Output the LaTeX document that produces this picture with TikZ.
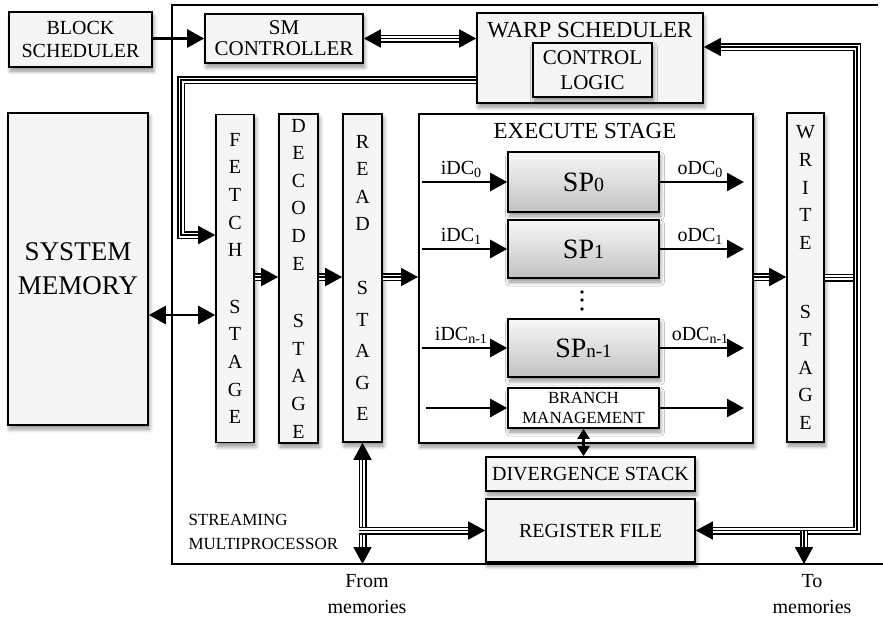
\documentclass[tikz,border=0pt]{standalone}
\usepackage{fontspec}
\setmainfont{Liberation Serif}
\usetikzlibrary{arrows.meta,shadows.blur}
\definecolor{boxgray}{RGB}{244,245,244}
\newcommand{\stagefont}{\fontsize{20}{27.6}\selectfont}
\begin{document}
\begin{tikzpicture}[x=1pt, y=-1pt, >={Triangle[length=17pt,width=18pt]},
  blk/.style={draw, line width=1.6pt, fill=boxgray, inner sep=0pt, align=center,
    blur shadow={shadow xshift=1.5pt, shadow yshift=-4pt, shadow blur radius=4pt, shadow blur steps=8, shadow opacity=45}},
  stagebox/.style={blk, minimum width=38pt, minimum height=328pt, font=\stagefont},
  spbox/.style={blk, top color=black!3, bottom color=black!24, minimum width=151pt, minimum height=58pt},
  arr/.style={line width=2.6pt, ->},
  arrboth/.style={line width=2.6pt, <->},
  bus/.style={line width=8pt, postaction={draw=white, line width=5pt}, postaction={draw=black, line width=1.7pt}},
  busarrow/.style={bus, shorten >=15pt, postaction={draw=black, line width=1.7pt, shorten >=0pt, ->}},
  busboth/.style={bus, shorten >=15pt, shorten <=15pt, postaction={draw=black, line width=1.7pt, shorten >=0pt, shorten <=0pt, <->}}]
  \useasboundingbox (0,0) rectangle (883,621);
  % outside the multiprocessor
  \node[blk, minimum width=143pt, minimum height=55pt, font=\fontsize{20}{23}\selectfont] (blocksch) at (80.5,39.5) {BLOCK\\SCHEDULER};
  \node[blk, minimum width=140pt, minimum height=312pt, font=\fontsize{27}{34}\selectfont] (sysmem) at (78,269) {SYSTEM\\MEMORY};
  % streaming multiprocessor frame
  \draw[line width=1.4pt] (878,5) -- (172,5) -- (172,564) -- (883,564);
  \node[anchor=west, align=left, font=\fontsize{17}{24}\selectfont] (smlabel) at (185,532) {STREAMING\\MULTIPROCESSOR};
  \node[blk, minimum width=158pt, minimum height=49pt, font=\fontsize{21}{21}\selectfont] (smctrl) at (284,38.5) {SM\\CONTROLLER};
  \node[blk, minimum width=226pt, minimum height=90pt] (warp) at (590,58) {};
  \node[font=\fontsize{23}{24}\selectfont] (warptitle) at (590,30) {WARP SCHEDULER};
  \node[blk, minimum width=119pt, minimum height=54pt, font=\fontsize{21}{25}\selectfont] (ctrl) at (592.5,70) {CONTROL\\LOGIC};
  % pipeline stages
  \node[stagebox] (fetch) at (235,278.5) {F\\E\\T\\C\\H\\[29pt]S\\T\\A\\G\\E};
  \node[stagebox, minimum width=39pt, minimum height=329pt] (decode) at (298.5,278.5) {D\\E\\C\\O\\D\\E\\[30pt]S\\T\\A\\G\\E};
  \node[stagebox, minimum width=39pt] (read) at (362.5,278) {R\\E\\A\\D\\[36pt]S\\[4pt]T\\[4pt]A\\[4pt]G\\[4pt]E};
  \node[blk, fill=white, line width=2pt, minimum width=334pt, minimum height=329pt] (exec) at (586,278.5) {};
  \node[font=\fontsize{23}{25}\selectfont] (exectitle) at (585,131) {EXECUTE STAGE};
  \node[stagebox, minimum width=37pt, minimum height=329pt] (write) at (805.5,277.5) {W\\R\\I\\T\\E\\[42pt]S\\T\\A\\G\\E};
  % stream processors
  \node[spbox, minimum height=60pt] (sp0) at (583.5,182) {\fontsize{28}{30}\selectfont SP\fontsize{20}{22}\selectfont 0};
  \node[spbox] (sp1) at (583.5,249) {\fontsize{28}{30}\selectfont SP\fontsize{20}{22}\selectfont 1};
  \node[spbox] (spn) at (583.5,348) {\fontsize{28}{30}\selectfont SP\fontsize{19}{22}\selectfont n-1};
  \foreach \y in {292,300,309}
    \fill (582,\y) circle (1.9pt);
  \node[blk, fill=white, minimum width=151pt, minimum height=40pt, font=\fontsize{17}{19.5}\selectfont] (branch) at (583.5,408) {BRANCH\\MANAGEMENT};
  \node[blk, minimum width=209pt, minimum height=34pt, font=\fontsize{20}{22}\selectfont] (div) at (590.5,474) {DIVERGENCE STACK};
  \node[blk, minimum width=209pt, minimum height=63pt, font=\fontsize{20}{22}\selectfont] (reg) at (590.5,530.5) {REGISTER FILE};
  \node[align=center, font=\fontsize{20}{26}\selectfont] (fromtext) at (367,594) {From\\memories};
  \node[align=center, font=\fontsize{20}{26}\selectfont] (totext) at (812,594) {To\\memories};
  % named points for the buses
  \coordinate (pipe) at (0,277);
  \coordinate (lbus) at (181,80);
  \coordinate (rbus) at (857,47);
  \coordinate (tomem) at (804,564);
  % single lines
  \draw[arr] (blocksch.east |- smctrl.west) -- (smctrl.west);
  \draw[arrboth] (sysmem.east |- 0,315) -- (fetch.west |- 0,315);
  \draw[line width=2.2pt, {Triangle[length=10pt,width=12pt]}-{Triangle[length=10pt,width=12pt]}] (branch.south) -- (branch.south |- div.north);
  \foreach \s/\t in {sp0/0, sp1/1, spn/{n-1}}
  {
    \draw[arr] ([xshift=4pt]exec.west |- \s.west) -- node[above, pos=.46, font=\fontsize{20}{22}\selectfont] {iDC\textsubscript{\t}} (\s.west);
    \draw[arr] (\s.east) -- node[above, pos=.48, font=\fontsize{20}{22}\selectfont] {oDC\textsubscript{\t}} ([xshift=-10pt]exec.east |- \s.east);
  }
  \draw[arr] ([xshift=8pt]exec.west |- branch.west) -- (branch.west);
  \draw[arr] (branch.east) -- ([xshift=-10pt]exec.east |- branch.east);
  % buses
  \draw[busboth] (smctrl.east) -- (warp.west |- smctrl.east);
  \draw[busarrow] (warp.west |- lbus) -- (lbus) |- (fetch.west |- 0,235);
  \foreach \a/\b in {fetch/decode, decode/read, read/exec, exec/write}
    \draw[busarrow] (\a.east |- pipe) -- (\b.west |- pipe);
  \draw[bus] (write.east) -- ([xshift=4pt]write.east -| rbus);
  \draw[busboth] (reg.east) -| (rbus) -- (warp.east |- rbus);
  \draw[busarrow] (tomem |- reg.east) -- (tomem);
  \draw[busboth] (read.south) -- (read.south |- tomem);
  \draw[busarrow] ([xshift=-4pt]read.south |- reg.west) -- (reg.west);
\end{tikzpicture}
\end{document}
